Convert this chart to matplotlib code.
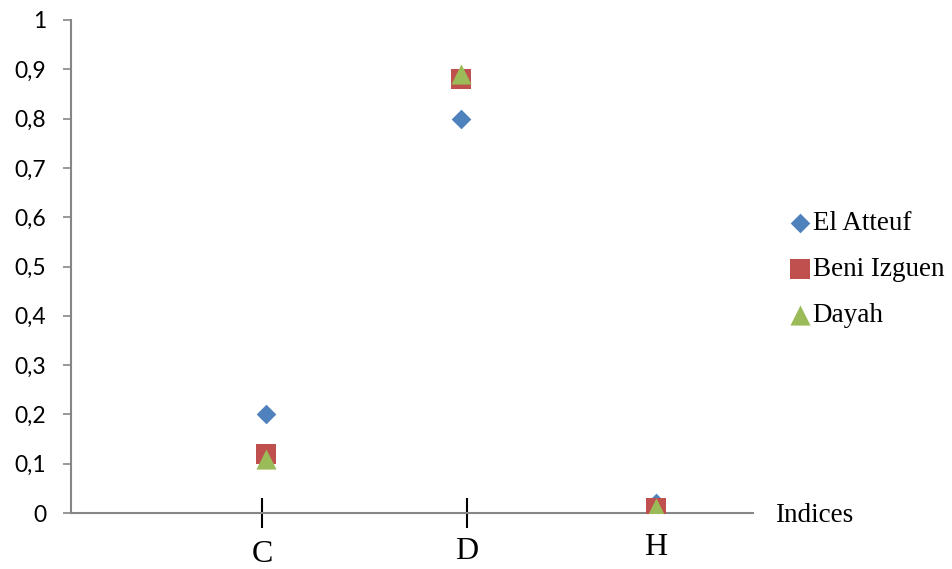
import matplotlib.pyplot as plt
from matplotlib.ticker import FuncFormatter

# indices per site
categories = ["C", "D", "H"]
xpos = [1, 2, 3]
el_atteuf = [0.20, 0.80, 0.02]
beni_izguen = [0.12, 0.88, 0.01]
dayah = [0.11, 0.89, 0.01]
yticks = [0, 0.1, 0.2, 0.3, 0.4, 0.5, 0.6, 0.7, 0.8, 0.9, 1]

# the hand-drawn tick marks / labels sit a bit off the data positions
label_x = [0.98, 2.03, 3.0]
label_y = [-0.085, -0.079, -0.069]

fig = plt.figure(figsize=(9.52, 5.69), dpi=100)
ax = fig.add_axes([71 / 952, 56 / 569, 682 / 952, 493 / 569])

ax.scatter(xpos, el_atteuf, marker="D", s=10 ** 2, color="#4F81BD", label="El Atteuf", zorder=3, linewidths=0)
ax.scatter(xpos, beni_izguen, marker="s", s=14.5 ** 2, color="#C0504D", label="Beni Izguen", zorder=4, linewidths=0)
ax.scatter(xpos, dayah, marker="^", s=14.5 ** 2, color="#9BBB59", label="Dayah", zorder=5, linewidths=0)

ax.set_xlim(0, 3.5)
ax.set_ylim(0, 1)
ax.set_yticks(yticks)
ax.yaxis.set_major_formatter(FuncFormatter(lambda v, p: ("%g" % v).replace(".", ",")))
for lbl in ax.get_yticklabels():
    lbl.set_fontfamily("Lato")
    lbl.set_fontsize(16.5)
ax.tick_params(axis="y", length=6, width=1.2, color="#868686", pad=12)

# black tick marks at C and D
ax.set_xticks(label_x[:2])
ax.set_xticklabels([])
ax.tick_params(axis="x", direction="inout", length=22, width=1.5, color="black")

for s in ["top", "right"]:
    ax.spines[s].set_visible(False)
for s in ["left", "bottom"]:
    ax.spines[s].set_color("#868686")
    ax.spines[s].set_linewidth(1.5)

# category labels
for x, name, y in zip(label_x, categories, label_y):
    ax.text(x, y, name, transform=ax.get_xaxis_transform(), ha="center", va="center",
            fontfamily="Liberation Serif", fontsize=23)

fig.text(775 / 952, 1 - 515 / 569, "Indices", ha="left", va="center",
         fontfamily="Liberation Serif", fontsize=19.5)

leg = fig.legend(loc="upper left", bbox_to_anchor=(791 / 952, 1 - 211 / 569), frameon=False,
                 prop={"family": "Liberation Serif", "size": 19.5}, handlelength=0.7,
                 handletextpad=0.1, labelspacing=0.78, borderaxespad=0, borderpad=0,
                 markerscale=1.0)

plt.savefig("out.png", dpi=100)
